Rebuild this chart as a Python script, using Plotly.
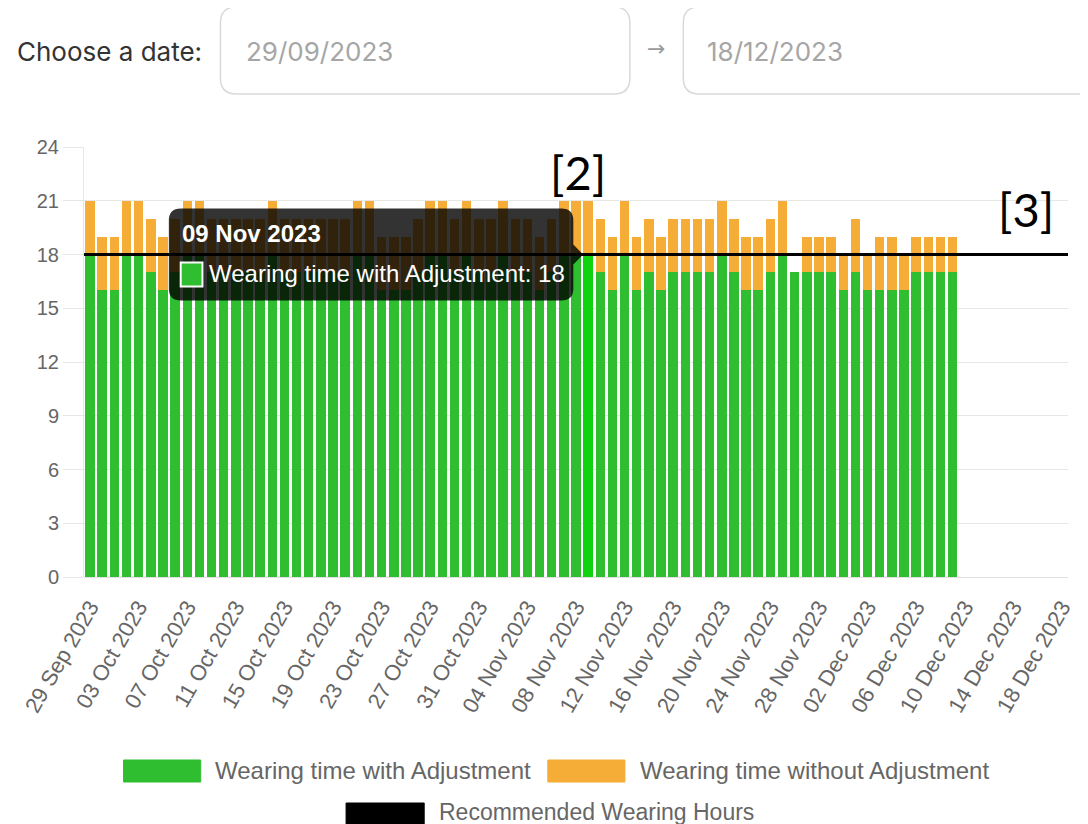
import pandas as pd
import plotly.graph_objects as go

# ---------------- data ----------------
dates = [d.strftime("%d %b %Y") for d in pd.date_range("2023-09-29", "2023-12-18", freq="D")]
tick_labels = dates[::4]

# total wearing time (top of stacked bar) = without adjustment
without_adjustment = [21, 19, 19, 21, 21, 20, 19, 20, 21, 21,
                      20, 20, 20, 20, 20, 21, 20, 20, 20, 20,
                      20, 20, 21, 21, 19, 19, 19, 20, 21, 21,
                      20, 21, 20, 20, 21, 20, 20, 19, 20, 21,
                      21, 21, 20, 19, 21, 19, 20, 19, 20, 20,
                      20, 20, 21, 20, 19, 19, 20, 21, 17, 19,
                      19, 19, 18, 20, 18, 19, 19, 18, 19, 19,
                      19, 19]
with_adjustment = [18, 16, 16, 18, 18, 17, 16, 17, 18, 18,
                   17, 17, 17, 17, 17, 18, 17, 17, 17, 17,
                   17, 17, 18, 18, 16, 16, 16, 17, 18, 18,
                   17, 18, 17, 17, 18, 17, 17, 16, 17, 18,
                   18, 18, 17, 16, 18, 16, 17, 16, 17, 17,
                   17, 17, 18, 17, 16, 16, 17, 18, 17, 17,
                   17, 17, 16, 17, 16, 16, 16, 16, 17, 17,
                   17, 17]
recommended_hours = 18
hovered_date = "09 Nov 2023"
date_from, date_to = "29/09/2023", "18/12/2023"

names = ["Wearing time with Adjustment", "Wearing time without Adjustment", "Recommended Wearing Hours"]
GREEN, ORANGE, HOVER_GREEN = "#2fbe2f", "#f5ad37", "#0fd30f"

bar_dates = dates[:len(with_adjustment)]
orange_part = [w - a for w, a in zip(without_adjustment, with_adjustment)]
hover_idx = dates.index(hovered_date)
hover_val = with_adjustment[hover_idx]

# ---------------- geometry helpers (screen pixels; page has an 8px body margin) ----------------
OFF = 8
W, H = 1088 - OFF, 824 - OFF
L, R, T, B = 80, 1075, 147, 577   # plot area in screen pixels
YMAX = 24


def px(x):
    return (x - L) / (R - L)


def py(y):
    return (B - y) / (B - T)


def rrect(x0, y0, x1, y1, r, caret=None):
    p = lambda x, y: f"{px(x):.5f},{py(y):.5f}"
    d = f"M{p(x0 + r, y0)} L{p(x1 - r, y0)} Q{p(x1, y0)} {p(x1, y0 + r)} "
    if caret:
        cy, cs, tip = caret
        d += f"L{p(x1, cy - cs)} L{p(tip, cy)} L{p(x1, cy + cs)} "
    d += f"L{p(x1, y1 - r)} Q{p(x1, y1)} {p(x1 - r, y1)} L{p(x0 + r, y1)} Q{p(x0, y1)} {p(x0, y1 - r)} "
    d += f"L{p(x0, y0 + r)} Q{p(x0, y0)} {p(x0 + r, y0)} Z"
    return d


fig = go.Figure()
fig.add_trace(go.Bar(
    x=bar_dates, y=with_adjustment, name=names[0], showlegend=False,
    marker=dict(color=[HOVER_GREEN if i == hover_idx else GREEN for i in range(len(bar_dates))], line_width=0),
))
fig.add_trace(go.Bar(
    x=bar_dates, y=orange_part, name=names[1], showlegend=False,
    marker=dict(color=ORANGE, line_width=0),
))

shapes = []
# recommended line
shapes.append(dict(type="line", xref="paper", x0=0, x1=1, yref="y", y0=recommended_hours, y1=recommended_hours,
                   line=dict(color="black", width=3), layer="above"))

# tooltip positioned from hovered bar
n_cat = len(dates)
cx = L + (hover_idx + 0.5) * (R - L) / n_cat
cy = B - hover_val * (B - T) / YMAX
tip_r = cx - 15
tip_l = tip_r - 409
shapes.append(dict(type="path", xref="paper", yref="paper",
                   path=rrect(tip_l, cy - 46, tip_r, cy + 46, 12, caret=(cy, 10, tip_r + 10)),
                   fillcolor="rgba(0,0,0,0.8)", line=dict(width=0), layer="above"))
shapes.append(dict(type="rect", xref="paper", yref="paper",
                   x0=px(tip_l + 12), x1=px(tip_l + 34), y0=py(cy + 32), y1=py(cy + 8),
                   fillcolor=GREEN, line=dict(color="white", width=2), layer="above"))

# header input boxes
shapes.append(dict(type="path", xref="paper", yref="paper", path=rrect(218, 7, 632, 94, 16),
                   fillcolor="white", line=dict(color="#d9d9d9", width=1.5)))
shapes.append(dict(type="path", xref="paper", yref="paper", path=rrect(686, 7, 1110, 94, 16),
                   fillcolor="white", line=dict(color="#d9d9d9", width=1.5)))

# legend swatches
leg = [(120, 760, 198, 782, GREEN), (549, 760, 627, 782, ORANGE), (345, 803, 424, 826, "black")]
for x0, y0, x1, y1, c in leg:
    shapes.append(dict(type="rect", xref="paper", yref="paper", x0=px(x0), x1=px(x1), y0=py(y1), y1=py(y0),
                       fillcolor=c, line=dict(color=c, width=1)))

ann = []


def text(x, y, s, size, color, family="Liberation Sans, Arial", anchor="left", bold=False):
    ann.append(dict(xref="paper", yref="paper", x=px(x), y=py(y), text=f"<b>{s}</b>" if bold else s,
                    showarrow=False, xanchor=anchor, yanchor="middle",
                    font=dict(size=size, color=color, family=family)))


text(10, 51, "Choose a date:", 26, "#333333", family="Inter")
text(242, 51, date_from, 26, "#a6a6a6", family="Inter")
text(708, 51, date_to, 26, "#a6a6a6", family="Inter")
text(658, 48, "→", 22, "#9a9a9a", family="DejaVu Sans", anchor="center")

text(tip_l + 11, cy - 21, hovered_date, 24, "white", bold=True)
text(tip_l + 39, cy + 19, f"{names[0]}: {hover_val}", 24, "white")

text(210, 770, names[0], 24, "#666666")
text(640, 770, names[1], 24, "#666666")
text(437, 812, names[2], 23, "#666666")

text(580, 172, "[2]", 47, "black", family="Lato", anchor="center")
text(1033, 209, "[3]", 47, "black", family="Lato", anchor="center")

fig.update_layout(
    width=W, height=H, autosize=False,
    margin=dict(l=L - OFF, r=W - (R - OFF), t=T - OFF, b=H - (B - OFF)),
    barmode="stack", bargap=0.22,
    plot_bgcolor="white", paper_bgcolor="white",
    shapes=shapes, annotations=ann,
    font=dict(family="Liberation Sans, Arial", color="#666666"),
    hovermode=False,
)
fig.update_xaxes(type="category", categoryorder="array", categoryarray=dates,
                 range=[-0.5, n_cat - 0.5], tickmode="array", tickvals=tick_labels, ticktext=tick_labels,
                 tickangle=-60, tickfont=dict(size=22, color="#666666"), showgrid=False, showline=False,
                 ticks="", zeroline=False, ticklabelstandoff=12)
fig.update_yaxes(range=[0, YMAX], dtick=3, tick0=0, gridcolor="#e6e6e6", gridwidth=1,
                 ticks="outside", ticklen=20, tickcolor="#e6e6e6", showline=True, linecolor="#e6e6e6",
                 zeroline=True, zerolinecolor="#e0e0e0", zerolinewidth=1,
                 tickfont=dict(size=20, color="#666666"))

fig.write_html("out.html")
